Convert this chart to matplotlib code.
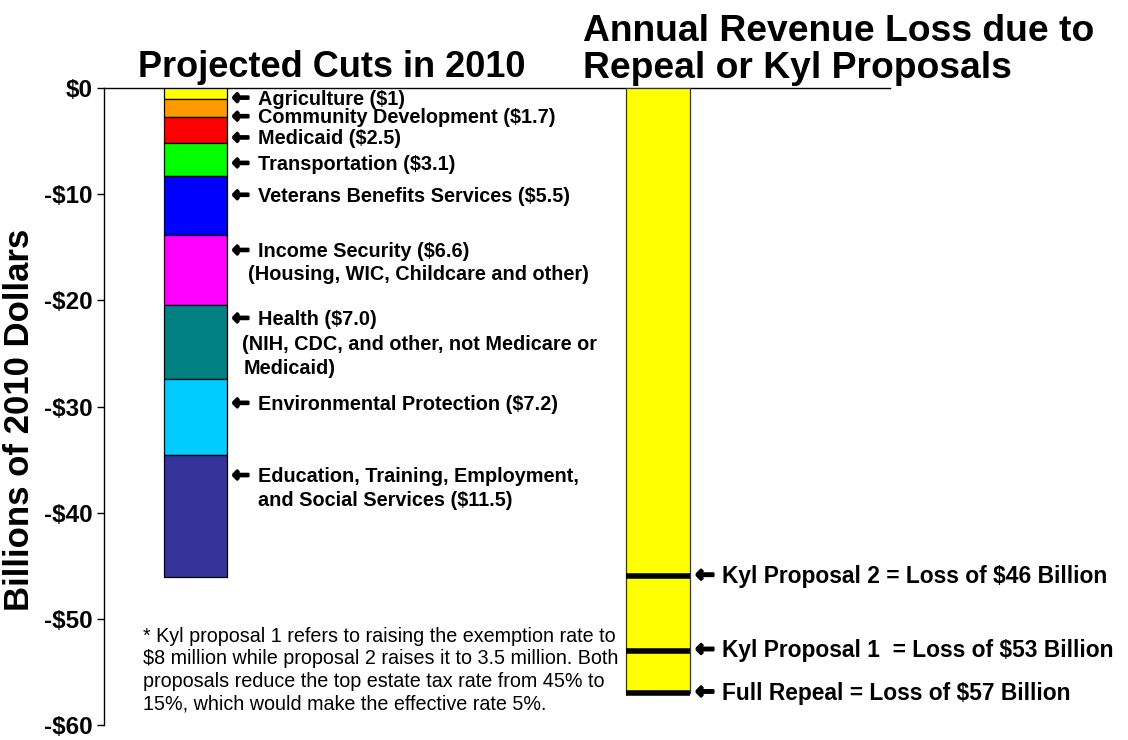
import matplotlib
matplotlib.use("Agg")
import matplotlib.pyplot as plt
from matplotlib import font_manager
import matplotlib.patheffects as pe

# ---------------- data ----------------
categories = ["Agriculture", "Community Development", "Medicaid", "Transportation",
              "Veterans Benefits Services", "Income Security", "Health",
              "Environmental Protection",
              "Education, Training, Employment, and Social Services"]
cuts = [1.0, 1.7, 2.5, 3.1, 5.5, 6.6, 7.0, 7.2, 11.5]
cut_colors = ["#FFFF00", "#FF9900", "#FF0000", "#00FF00", "#0000FF",
              "#FF00FF", "#008080", "#00CCFF", "#333399"]
cut_labels = [
    ["Agriculture ($1)"],
    ["Community Development ($1.7)"],
    ["Medicaid ($2.5)"],
    ["Transportation ($3.1)"],
    ["Veterans Benefits Services ($5.5)"],
    ["Income Security ($6.6)", "(Housing, WIC, Childcare and other)"],
    ["Health ($7.0)", "(NIH, CDC, and other, not Medicare or", "Medicaid)"],
    ["Environmental Protection ($7.2)"],
    ["Education, Training, Employment,", "and Social Services ($11.5)"],
]
full_repeal_loss = 57
proposal_names = ["Kyl Proposal 2", "Kyl Proposal 1 ", "Full Repeal"]
proposal_losses = [46, 53, 57]
yticks = [0, -10, -20, -30, -40, -50, -60]
ytick_labels = ["$0", "-$10", "-$20", "-$30", "-$40", "-$50", "-$60"]

# label layout (data units, where each label line sits)
cut_label_y = [[-1.05], [-2.8], [-4.8], [-7.2], [-10.2], [-15.4, -17.6],
               [-21.8, -24.2, -26.4], [-29.8], [-36.6, -38.9]]
cont_offsets = [None, None, None, None, None, [21], [15, 16], None, [31]]

# ---------------- fonts ----------------
names = {f.name for f in font_manager.fontManager.ttflist}
base = "Liberation Sans" if "Liberation Sans" in names else "DejaVu Sans"
fam = [base, "DejaVu Sans"]
plt.rcParams["font.family"] = fam

W, H = 1128, 740
fig = plt.figure(figsize=(W / 100, H / 100), dpi=100)
ax_l, ax_r, ax_t, ax_b = 104, 890, 88, 725
ax = fig.add_axes([ax_l / W, 1 - ax_b / H, (ax_r - ax_l) / W, (ax_b - ax_t) / H])

bw = 0.137
x1, x2 = 0.0, 1.0
ax.set_xlim(-0.198, 1.502)
ax.set_ylim(-60, 0)

# stacked cuts bar
bottom = 0.0
for v, c in zip(cuts, cut_colors):
    ax.bar(x1, -v, bottom=bottom, width=bw, color=c, edgecolor="black",
           linewidth=0.9, zorder=3)
    bottom -= v

# revenue loss bar
ax.bar(x2, -full_repeal_loss, width=bw, color="#FFFF00", edgecolor="#333333",
       linewidth=0.9, zorder=3)
ax.hlines([-p for p in proposal_losses], x2 - bw / 2, x2 + bw / 2,
          colors="black", linewidth=4.0, zorder=4)

arrow_fx = [pe.withStroke(linewidth=1.6, foreground="black")]

# labels for cuts
lab_fs = 14.3
for lines, ys, offs in zip(cut_labels, cut_label_y, cont_offsets):
    ax.annotate("\u2190", xy=(x1 + bw / 2, ys[0]), xytext=(5, 1),
                textcoords="offset pixels", ha="left", va="center",
                fontsize=15, fontweight="bold", family=["DejaVu Sans"],
                path_effects=arrow_fx)
    ax.annotate(lines[0], xy=(x1 + bw / 2, ys[0]), xytext=(31, 0),
                textcoords="offset pixels", ha="left", va="center",
                fontsize=lab_fs, fontweight="bold")
    for i, (ln, yy) in enumerate(zip(lines[1:], ys[1:])):
        ax.annotate(ln, xy=(x1 + bw / 2, yy), xytext=(offs[i], 0),
                    textcoords="offset pixels", ha="left", va="center",
                    fontsize=lab_fs, fontweight="bold")

# labels for proposals
for nm, p in zip(proposal_names, proposal_losses):
    ax.annotate("\u2190", xy=(x2 + bw / 2, -p), xytext=(6, 1),
                textcoords="offset pixels", ha="left", va="center",
                fontsize=16.5, fontweight="bold", family=["DejaVu Sans"],
                path_effects=arrow_fx)
    ax.annotate(f"{nm} = Loss of ${p} Billion", xy=(x2 + bw / 2, -p),
                xytext=(32, 0), textcoords="offset pixels", ha="left",
                va="center", fontsize=16.4, fontweight="bold")

# axes styling
for s in ["right", "bottom"]:
    ax.spines[s].set_visible(False)
ax.spines["left"].set_linewidth(1.0)
ax.spines["top"].set_linewidth(1.0)
ax.set_xticks([])
ax.set_yticks(yticks)
ax.set_yticklabels(ytick_labels, fontsize=17.5, fontweight="bold")
ax.tick_params(axis="y", direction="out", length=5, width=1, pad=3)

ax.set_ylabel("Billions of 2010 Dollars", fontsize=25, fontweight="bold")
ax.yaxis.set_label_coords(-0.0865, 0.479)

# titles
fig.text(332 / W, 1 - 77 / H, "Projected Cuts in 2010", ha="center",
         va="baseline", fontsize=26, fontweight="bold")
fig.text(583 / W, 1 - 50 / H, "Annual Revenue Loss due to\nRepeal or Kyl Proposals",
         ha="left", va="center", fontsize=26.8, fontweight="bold", linespacing=1.08)

# footnote
fig.text(143 / W, 1 - 670 / H,
         "* Kyl proposal 1 refers to raising the exemption rate to\n"
         "$8 million while proposal 2 raises it to 3.5 million. Both\n"
         "proposals reduce the top estate tax rate from 45% to\n"
         "15%, which would make the effective rate 5%.",
         ha="left", va="center", fontsize=14.2, linespacing=1.24)

fig.savefig("out.png", dpi=100)
